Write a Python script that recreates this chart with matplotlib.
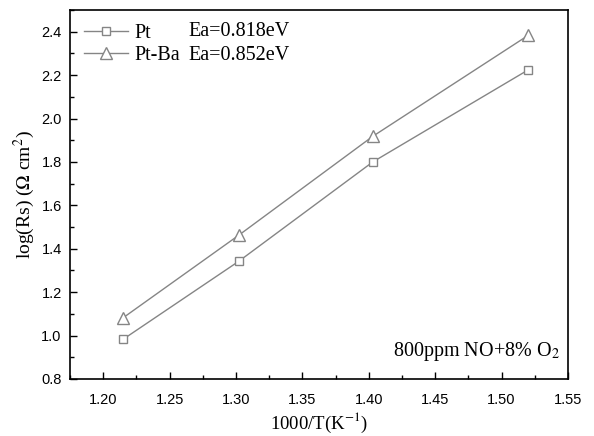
import matplotlib
matplotlib.use("Agg")
import matplotlib.pyplot as plt
from matplotlib.ticker import MultipleLocator, FormatStrFormatter

x = [1.215, 1.302, 1.403, 1.520]
pt = [0.983, 1.342, 1.800, 2.224]
ptba = [1.082, 1.462, 1.918, 2.383]
series_names = ["Pt", "Pt-Ba"]
ea_labels = ["Ea=0.818eV", "Ea=0.852eV"]
note = "800ppm NO+8% O$_2$"

plt.rcParams['mathtext.fontset'] = 'stix'
serif = "Liberation Serif"
sans = "Liberation Sans"

fig = plt.figure(figsize=(5.94, 4.36), dpi=100)
ax = fig.add_axes([70/594, 1-379/436, (568-70)/594, (379-10)/436])

gray = "#858585"
l1, = ax.plot(x, pt, color=gray, lw=1.0, marker="s", ms=6, mfc="white", mec=gray, mew=1.0)
l2, = ax.plot(x, ptba, color=gray, lw=1.0, marker="^", ms=8, mfc="white", mec=gray, mew=1.0)

ax.set_xlim(1.175, 1.55)
ax.set_ylim(0.8, 2.5)
ax.xaxis.set_major_locator(MultipleLocator(0.05))
ax.xaxis.set_minor_locator(MultipleLocator(0.025))
ax.yaxis.set_major_locator(MultipleLocator(0.2))
ax.yaxis.set_minor_locator(MultipleLocator(0.1))
ax.xaxis.set_major_formatter(FormatStrFormatter("%.2f"))
ax.yaxis.set_major_formatter(FormatStrFormatter("%.1f"))
ax.tick_params(which="both", direction="in", top=False, right=False, width=1.0)
ax.tick_params(which="major", length=5, labelsize=10.5)
ax.tick_params(axis="x", which="major", pad=10)
ax.tick_params(axis="y", which="major", pad=6)
ax.tick_params(which="minor", length=3)
for lab in ax.get_xticklabels() + ax.get_yticklabels():
    lab.set_fontfamily(sans)
for s in ax.spines.values():
    s.set_linewidth(1.2)

ax.set_xlabel("1000/T(K$^{-1}$)", fontfamily=serif, fontsize=13.5, labelpad=3)
ax.set_ylabel("log(Rs) ($\\Omega$ cm$^{2}$)", fontfamily=serif, fontsize=14, labelpad=3)

leg = ax.legend([l1, l2], series_names, loc="upper left", frameon=False,
                prop={"family": serif, "size": 14.5}, handlelength=2.2,
                borderaxespad=0.0, labelspacing=0.12, handletextpad=0.3,
                borderpad=0.3, bbox_to_anchor=(0.016, 0.978))
ea_y = [32, 55]
for lab, yy in zip(ea_labels, ea_y):
    fig.text(188/594, 1-yy/436, lab, fontfamily=serif, fontsize=14.5, va="center", ha="left")

ax.text(0.984, (379-356)/369, note, transform=ax.transAxes, ha="right", va="baseline",
        fontfamily=serif, fontsize=14.5)

fig.savefig("out.png", dpi=100)
